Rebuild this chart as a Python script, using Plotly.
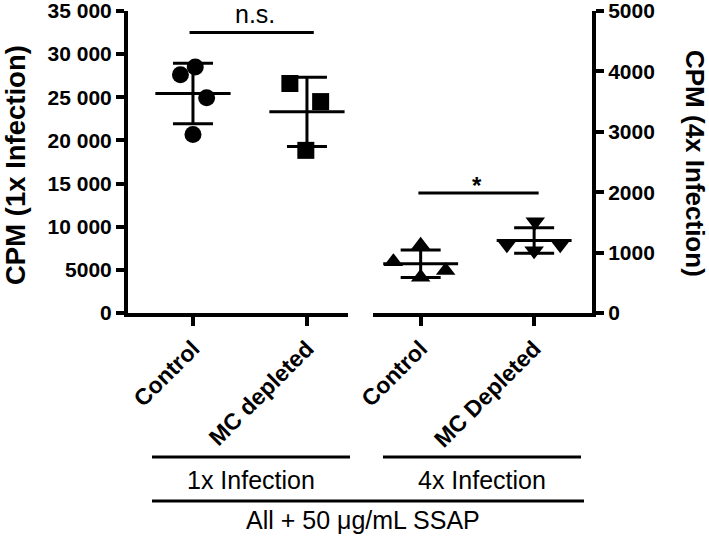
import plotly.graph_objects as go
import numpy as np

# ---- data ----
cats_1x = ["Control", "MC depleted"]
cats_4x = ["Control", "MC Depleted"]
ctrl_1x = [27600, 28500, 24950, 20700]
mcd_1x = [26600, 24500, 18850]
ctrl_4x = [850, 1120, 705, 590]
mcd_4x = [1130, 1510, 1030, 1130]
left_ticks = [0, 5000, 10000, 15000, 20000, 25000, 30000, 35000]
left_ticktext = ["0", "5000", "10 000", "15 000", "20 000", "25 000", "30 000", "35 000"]
right_ticks = [0, 1000, 2000, 3000, 4000, 5000]
sig_1x = "n.s."
sig_4x = "*"
group_labels = ["1x Infection", "4x Infection"]
overall_label = "All + 50 μg/mL SSAP"

# ---- layout constants ----
W, H = 709, 536
L, R, T, B = 128, 592, 11, 313
FONT = "Liberation Sans, Arial, sans-serif"
jit_ctrl_1x = [-0.11, 0.02, 0.12, 0.0]
jit_mcd_1x = [-0.15, 0.12, -0.01]
jit_ctrl_4x = [-0.24, 0.0, 0.22, 0.0]
jit_mcd_4x = [-0.24, 0.01, 0.0, 0.23]

def px2paper_x(px):
    return (px - L) / (R - L)

def px2paper_y(py):
    return (B - py) / (B - T)

fig = go.Figure()

def add_group(vals, idx, jit, symbol, xa, ya, size):
    vals = np.array(vals, dtype=float)
    fig.add_trace(go.Scatter(
        x=[idx + j for j in jit], y=vals, mode="markers",
        marker=dict(symbol=symbol, size=size, color="black"),
        xaxis=xa, yaxis=ya, showlegend=False, hoverinfo="y", cliponaxis=False))
    m = vals.mean()
    sd = vals.std(ddof=1)
    # SD error bar
    fig.add_trace(go.Scatter(
        x=[idx], y=[m], mode="markers", marker=dict(size=0.1, color="black"),
        error_y=dict(type="data", array=[sd], visible=True, color="black",
                     thickness=3, width=20),
        xaxis=xa, yaxis=ya, showlegend=False, hoverinfo="skip"))
    # mean line
    fig.add_trace(go.Scatter(
        x=[idx - 0.33, idx + 0.33], y=[m, m], mode="lines",
        line=dict(color="black", width=3),
        xaxis=xa, yaxis=ya, showlegend=False, hoverinfo="skip"))

add_group(ctrl_1x, 0, jit_ctrl_1x, "circle", "x", "y", 17)
add_group(mcd_1x, 1, jit_mcd_1x, "square", "x", "y", 17)
add_group(ctrl_4x, 0, jit_ctrl_4x, "triangle-up", "x2", "y2", 17)
add_group(mcd_4x, 1, jit_mcd_4x, "triangle-down", "x2", "y2", 17)

axis_common = dict(showline=True, linecolor="black", linewidth=4, ticks="outside",
                   tickcolor="black", tickwidth=4, showgrid=False, zeroline=False,
                   automargin=False, ticklabeloverflow="allow")

fig.update_layout(
    width=W, height=H, plot_bgcolor="white", paper_bgcolor="white",
    margin=dict(l=L, r=W - R, t=T, b=H - B, autoexpand=False),
    font=dict(family=FONT, color="black"),
    xaxis=dict(domain=[0, px2paper_x(348)], range=[-0.57, 1.36], anchor="y",
               tickvals=[0, 1], ticktext=cats_1x, tickangle=-45, ticklen=9,
               tickfont=dict(size=23, weight="bold"), **axis_common),
    xaxis2=dict(domain=[px2paper_x(373), 1], range=[-0.42, 1.51], anchor="y2",
                tickvals=[0, 1], ticktext=cats_4x, tickangle=-45, ticklen=9,
                tickfont=dict(size=23, weight="bold"), **axis_common),
    yaxis=dict(domain=[0, 1], range=[0, 35000], anchor="x", tickvals=left_ticks,
               ticktext=left_ticktext, ticklen=8,
               tickfont=dict(size=21, weight="bold"), **axis_common),
    yaxis2=dict(domain=[0, 1], range=[0, 5000], anchor="x2", side="right",
                tickvals=right_ticks, ticklen=8,
                tickfont=dict(size=21, weight="bold"), **axis_common),
)

# significance bars
fig.add_shape(type="line", xref="x", yref="y", x0=-0.03, x1=1.06, y0=32500, y1=32500,
              line=dict(color="black", width=3))
fig.add_annotation(xref="x", yref="y", x=0.54, y=32500, text=sig_1x, showarrow=False,
                   xanchor="center", yanchor="bottom", yshift=3, font=dict(size=25))
fig.add_shape(type="line", xref="x2", yref="y2", x0=-0.02, x1=1.04, y0=1985, y1=1985,
              line=dict(color="black", width=3))
fig.add_annotation(xref="x2", yref="y2", x=0.5, y=1985, text=sig_4x, showarrow=False,
                   xanchor="center", yanchor="bottom", yshift=-8,
                   font=dict(size=24, weight="bold"))

# axis titles
fig.add_annotation(xref="paper", yref="paper", x=px2paper_x(16), y=px2paper_y(165),
                   text="CPM (1x Infection)", textangle=-90, showarrow=False,
                   xanchor="center", yanchor="middle",
                   font=dict(size=27.5, weight="bold"))
fig.add_annotation(xref="paper", yref="paper", x=px2paper_x(695), y=px2paper_y(163),
                   text="CPM (4x Infection)", textangle=90, showarrow=False,
                   xanchor="center", yanchor="middle",
                   font=dict(size=26, weight="bold"))

# group brackets
for (x0, x1, py) in [(152, 350, 457), (383, 581, 457), (152, 584, 501)]:
    fig.add_shape(type="line", xref="paper", yref="paper",
                  x0=px2paper_x(x0), x1=px2paper_x(x1),
                  y0=px2paper_y(py), y1=px2paper_y(py),
                  line=dict(color="black", width=3))
for text, cx, cy in [(group_labels[0], 251, 480), (group_labels[1], 482, 480),
                     (overall_label, 363, 520)]:
    fig.add_annotation(xref="paper", yref="paper", x=px2paper_x(cx), y=px2paper_y(cy),
                       text=text, showarrow=False, xanchor="center", yanchor="middle",
                       font=dict(size=25))

fig.write_html("out.html", config={"displayModeBar": False},
               post_script="document.body.style.margin='0';")
